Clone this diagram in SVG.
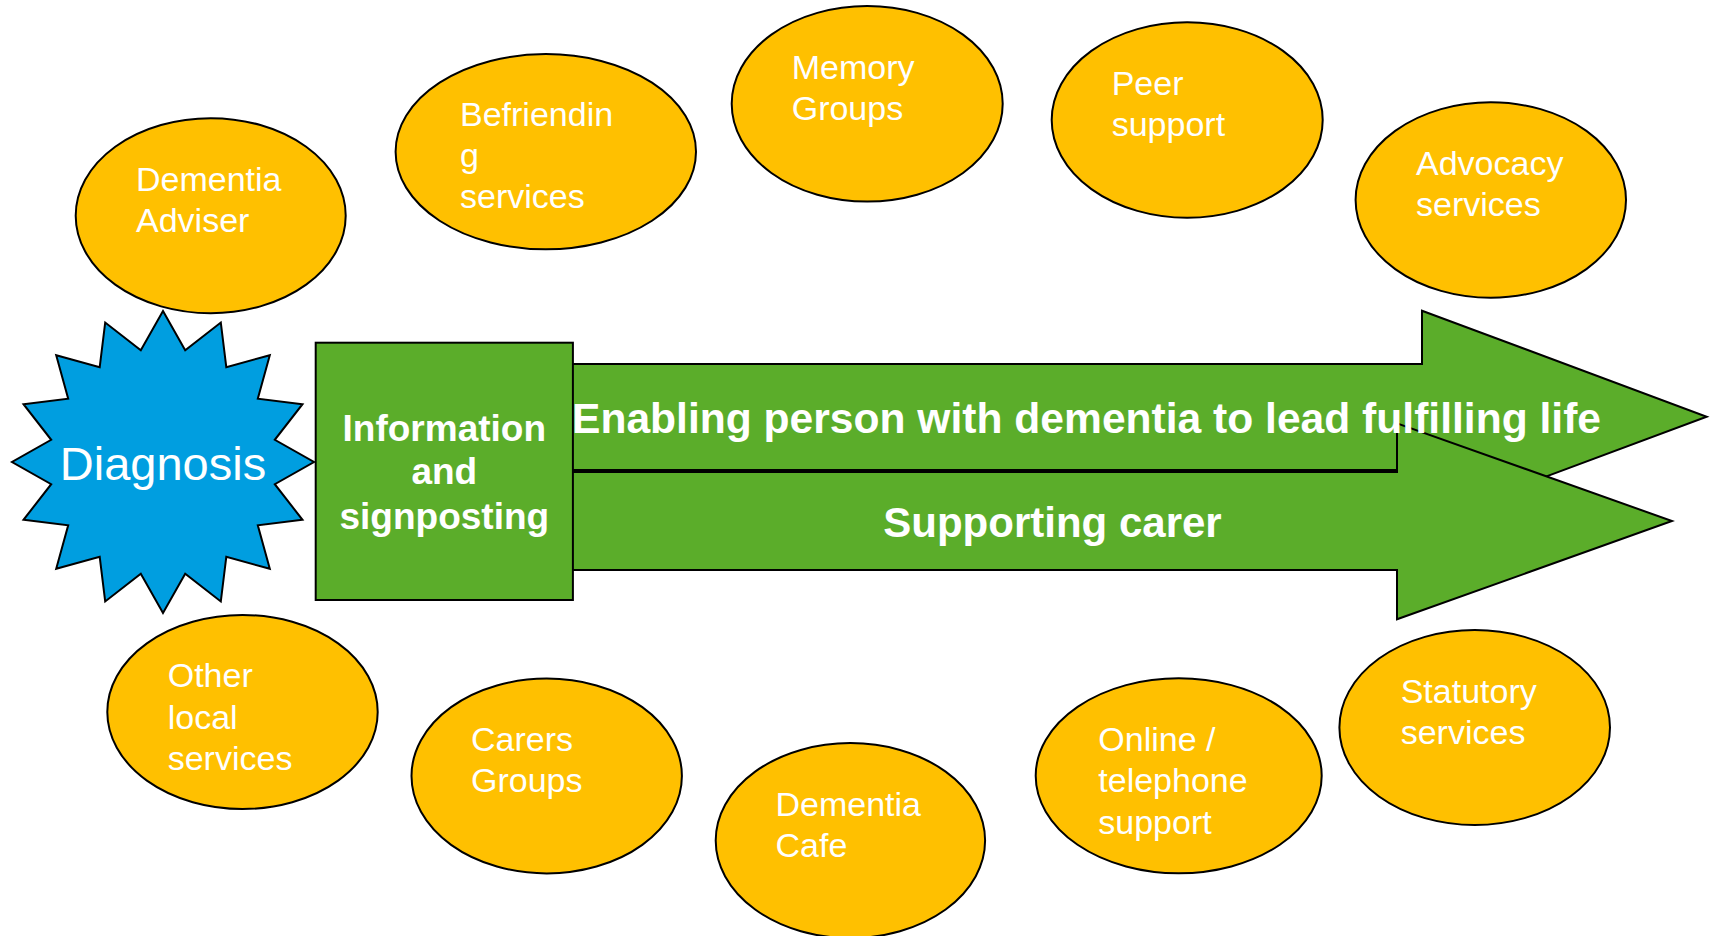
<svg xmlns="http://www.w3.org/2000/svg" width="1716" height="936" viewBox="0 0 1716 936">
  <style>
    .bubble { fill: #FFC000; stroke: #000; stroke-width: 2; }
    .green { fill: #5BAD2A; stroke: #000; stroke-width: 2; stroke-linejoin: miter; }
    .star { fill: #009EE0; stroke: #000; stroke-width: 2; stroke-linejoin: miter; }
    .label { font-family: "Liberation Sans", Arial, sans-serif; font-size: 34px; fill: #fff; }
    .bold { font-family: "Liberation Sans", Arial, sans-serif; font-weight: bold; fill: #fff; }
  </style>

  <!-- pathway arrows -->
  <g id="connectors">
    <polygon id="arrow-person" class="green" points="572,364 1422,364 1422,310.7 1706.7,416.7 1422,522.7 1422,470 572,470"/>
    <polygon id="arrow-carer" class="green" points="572,472 1397,472 1397,423.3 1672,521 1397,619.3 1397,570 572,570"/>
    <text class="bold" x="572" y="433" font-size="42" textLength="1029" lengthAdjust="spacingAndGlyphs">Enabling person with dementia to lead fulfilling life</text>
    <text class="bold" x="1052.5" y="536.5" font-size="42" text-anchor="middle">Supporting carer</text>
  </g>

  <!-- information and signposting block -->
  <g id="info">
    <rect class="green" x="315.7" y="342.7" width="257.2" height="257.3"/>
    <text class="bold" font-size="37" text-anchor="middle"><tspan x="444.3" y="440.7">Information</tspan><tspan x="444.3" y="484.3">and</tspan><tspan x="444.3" y="529.3">signposting</tspan></text>
  </g>

  <!-- diagnosis burst -->
  <g id="diagnosis">
    <polygon class="star" points="163,311 185.2,350.2 220.8,322.5 226.3,367.2 269.8,355.2 257.8,398.7 302.5,404.2 274.8,439.8 314,462 274.8,484.2 302.5,519.8 257.8,525.3 269.8,568.8 226.3,556.8 220.8,601.5 185.2,573.8 163,613 140.8,573.8 105.2,601.5 99.7,556.8 56.2,568.8 68.2,525.3 23.5,519.8 51.2,484.2 12,462 51.2,439.8 23.5,404.2 68.2,398.7 56.2,355.2 99.7,367.2 105.2,322.5 140.8,350.2"/>
    <text x="163" y="480" text-anchor="middle" font-family="Liberation Sans, Arial, sans-serif" font-size="47" fill="#fff">Diagnosis</text>
  </g>

  <!-- support services -->
  <g id="dementia-adviser">
    <ellipse class="bubble" cx="210.7" cy="215.7" rx="135" ry="97.5"/>
    <text class="label"><tspan x="136" y="190.7">Dementia</tspan><tspan x="136" y="231.7">Adviser</tspan></text>
  </g>
  <g id="befriending">
    <ellipse class="bubble" cx="545.8" cy="151.7" rx="150.2" ry="97.6"/>
    <text class="label"><tspan x="460" y="126">Befriendin</tspan><tspan x="460" y="167">g</tspan><tspan x="460" y="208">services</tspan></text>
  </g>
  <g id="memory-groups">
    <ellipse class="bubble" cx="867.2" cy="103.8" rx="135.5" ry="97.8"/>
    <text class="label"><tspan x="791.7" y="79">Memory</tspan><tspan x="791.7" y="119.5">Groups</tspan></text>
  </g>
  <g id="peer-support">
    <ellipse class="bubble" cx="1187.2" cy="120" rx="135.5" ry="97.7"/>
    <text class="label"><tspan x="1111.7" y="95">Peer</tspan><tspan x="1111.7" y="135.5">support</tspan></text>
  </g>
  <g id="advocacy">
    <ellipse class="bubble" cx="1490.8" cy="200" rx="135.2" ry="97.7"/>
    <text class="label"><tspan x="1416" y="175">Advocacy</tspan><tspan x="1416" y="215.5">services</tspan></text>
  </g>
  <g id="other-local">
    <ellipse class="bubble" cx="242.5" cy="712" rx="135.2" ry="97"/>
    <text class="label"><tspan x="167.7" y="687">Other</tspan><tspan x="167.7" y="728.5">local</tspan><tspan x="167.7" y="770">services</tspan></text>
  </g>
  <g id="carers-groups">
    <ellipse class="bubble" cx="546.7" cy="776" rx="135.2" ry="97.4"/>
    <text class="label"><tspan x="471" y="751">Carers</tspan><tspan x="471" y="792">Groups</tspan></text>
  </g>
  <g id="dementia-cafe">
    <ellipse class="bubble" cx="850.4" cy="840.6" rx="134.7" ry="97.5"/>
    <text class="label"><tspan x="775.5" y="815.6">Dementia</tspan><tspan x="775.5" y="856.6">Cafe</tspan></text>
  </g>
  <g id="online-telephone">
    <ellipse class="bubble" cx="1178.7" cy="775.8" rx="143" ry="97.5"/>
    <text class="label"><tspan x="1098.3" y="750.7">Online /</tspan><tspan x="1098.3" y="792.3">telephone</tspan><tspan x="1098.3" y="834">support</tspan></text>
  </g>
  <g id="statutory">
    <ellipse class="bubble" cx="1474.7" cy="727.5" rx="135.3" ry="97.5"/>
    <text class="label"><tspan x="1400.7" y="702.7">Statutory</tspan><tspan x="1400.7" y="744.3">services</tspan></text>
  </g>
</svg>
